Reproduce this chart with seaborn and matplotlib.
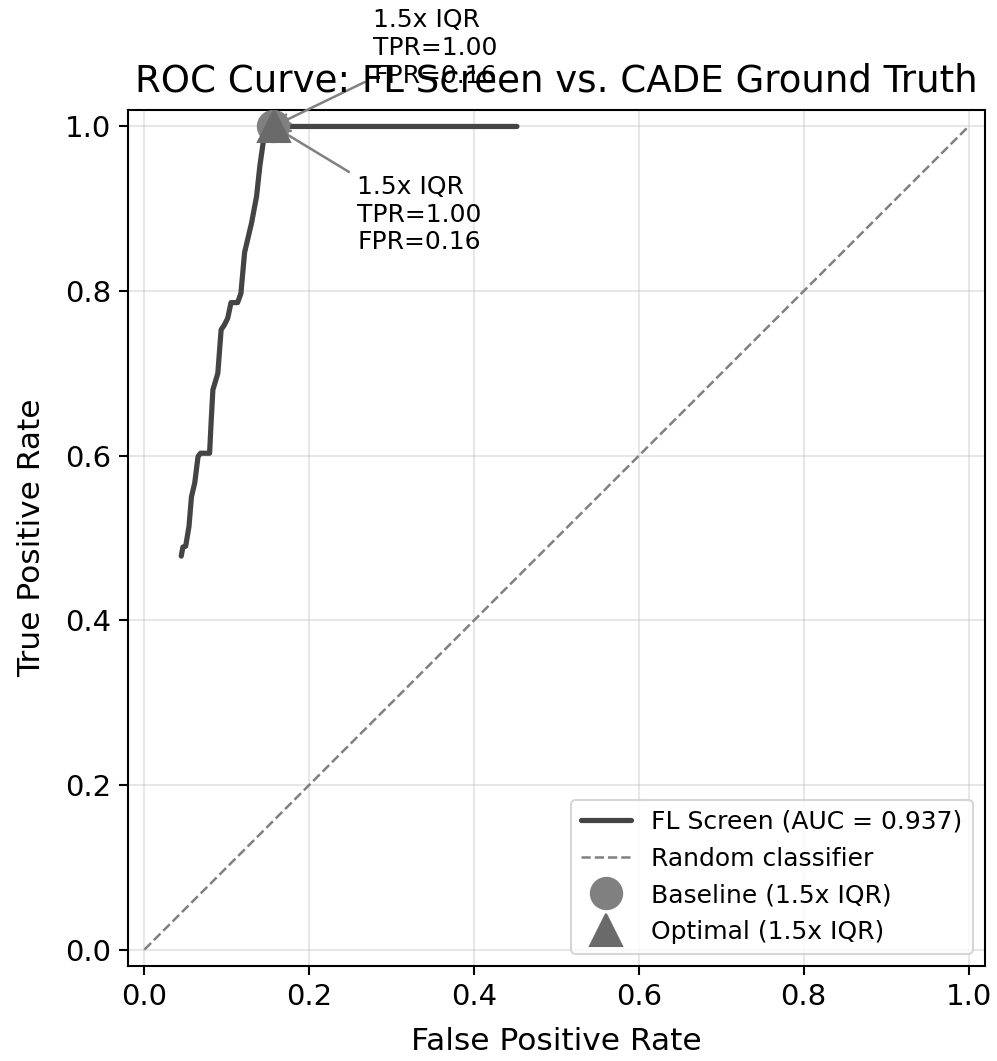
import matplotlib
matplotlib.use("Agg")
import matplotlib.pyplot as plt
import seaborn as sns
import pandas as pd

fpr = [0.0446, 0.0466, 0.050, 0.054, 0.057, 0.061, 0.065, 0.068, 0.079, 0.081, 0.083,
       0.089, 0.093, 0.097, 0.101, 0.105, 0.113, 0.117, 0.1215, 0.130, 0.136, 0.140,
       0.144, 0.147, 0.152, 0.452]
tpr = [0.478, 0.489, 0.490, 0.514, 0.550, 0.567, 0.599, 0.603, 0.603, 0.643, 0.680,
       0.700, 0.753, 0.759, 0.767, 0.786, 0.786, 0.797, 0.847, 0.883, 0.915, 0.952,
       0.980, 0.988, 1.0, 1.0]
auc_label = "FL Screen (AUC = 0.937)"
baseline_pt = (0.156, 1.0)
optimal_pt = (0.157, 1.0)
annot_text = "1.5x IQR\nTPR=1.00\nFPR=0.16"

sns.set_theme(style="ticks", rc={
    "text.color": "black", "axes.labelcolor": "black",
    "xtick.color": "black", "ytick.color": "black",
    "axes.edgecolor": "black", "axes.linewidth": 1.0,
    "xtick.major.size": 4.5, "ytick.major.size": 4.5,
    "xtick.major.width": 1.0, "ytick.major.width": 1.0,
})
plt.rcParams['font.family'] = ['DejaVu Sans']

fig = plt.figure(figsize=(997/150, 1061/150), dpi=150)
ax = fig.add_axes([128/997, 1-966/1061, (985-128)/997, (966-110)/1061])

df = pd.DataFrame({"fpr": fpr, "tpr": tpr})
sns.lineplot(data=df, x="fpr", y="tpr", ax=ax, color="#444444", linewidth=2.5,
             label=auc_label, sort=False, estimator=None)
sns.lineplot(x=[0, 1], y=[0, 1], ax=ax, color="gray", linestyle="--", linewidth=1.2,
             label="Random classifier")
ax.plot([baseline_pt[0]], [baseline_pt[1]], 'o', color="#808080", markersize=15,
        label="Baseline (1.5x IQR)", zorder=5)
ax.plot([optimal_pt[0]], [optimal_pt[1]], '^', color="#6a6a6a", markersize=15,
        label="Optimal (1.5x IQR)", zorder=6)

ax.annotate(annot_text, xy=baseline_pt, xytext=(48, 21), textcoords="offset points",
            fontsize=12, arrowprops=dict(arrowstyle="->", color="gray", lw=1.2))
ax.annotate(annot_text, xy=optimal_pt, xytext=(40, -59), textcoords="offset points",
            fontsize=12, arrowprops=dict(arrowstyle="->", color="gray", lw=1.2))

ax.set_xlim(-0.02, 1.02)
ax.set_ylim(-0.02, 1.02)
ax.set_xlabel("False Positive Rate", fontsize=15, labelpad=8)
ax.set_ylabel("True Positive Rate", fontsize=15, labelpad=9)
ax.set_title("ROC Curve: FL Screen vs. CADE Ground Truth", fontsize=17.8, pad=9)
ax.tick_params(labelsize=14)
ax.grid(True, color="#b0b0b0", alpha=0.3, linewidth=1.0)
ax.legend(loc="lower right", fontsize=12)

fig.savefig("out.png", dpi=150)
